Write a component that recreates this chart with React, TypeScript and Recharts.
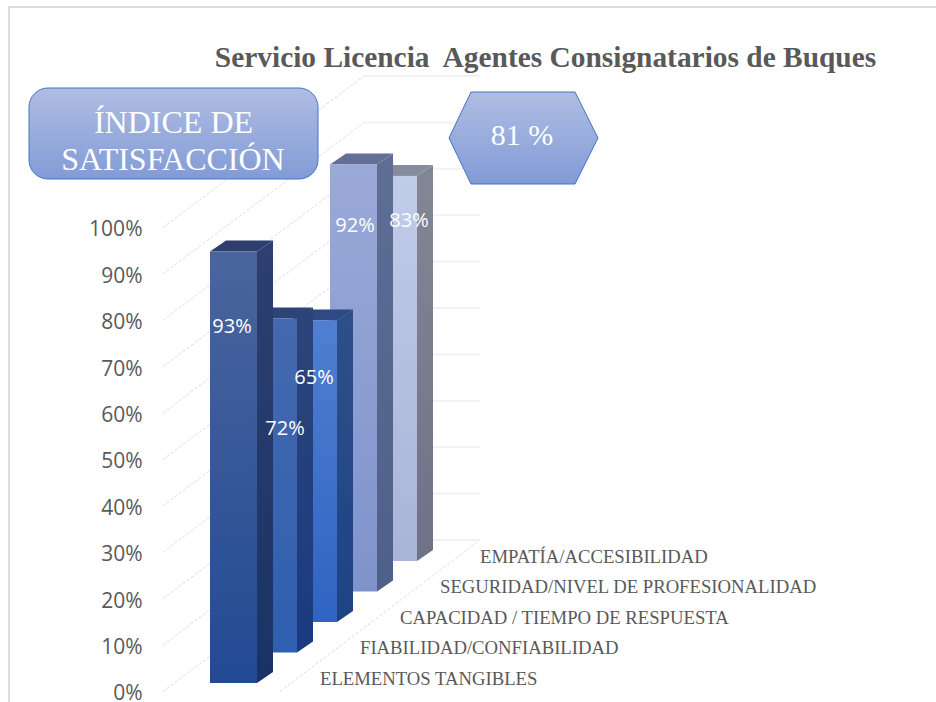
import { Bar, BarChart, CartesianGrid, LabelList, XAxis, YAxis } from "recharts";

const categories = [
  "ELEMENTOS TANGIBLES",
  "FIABILIDAD/CONFIABILIDAD",
  "CAPACIDAD / TIEMPO DE RESPUESTA",
  "SEGURIDAD/NIVEL DE PROFESIONALIDAD",
  "EMPATÍA/ACCESIBILIDAD",
];
const values = [93, 72, 65, 92, 83];
const yTicks = [0, 10, 20, 30, 40, 50, 60, 70, 80, 90, 100];

// front top, front bottom, side top, side bottom, top face
const barColors = [
  ["#4a659e", "#224a93", "#2e3f70", "#1a3266", "#2e3f6e"],
  ["#4569ae", "#2f5fb0", "#2d4478", "#1a3a80", "#2d4478"],
  ["#4f7fd0", "#2f64c2", "#2f4f8a", "#1d4384", "#2f4a82"],
  ["#9aa9d8", "#7f93cb", "#5e6e94", "#4e5f8a", "#646f98"],
  ["#c0cce8", "#aab4d8", "#838794", "#6f7187", "#858c9e"],
];
// where each percentage sits relative to the top centre of its bar
const labelNudges = [
  [-1.5, 74],
  [11.5, 109],
  [0.5, 56],
  [1.5, 60],
  [15.5, 44],
];

// back bars have to paint first, so the table runs back to front on a reversed axis
const table = categories
  .map((name, i) => ({ name, value: values[i], depth: i }))
  .reverse();

const FRONT_WIDTH = 47;
const SIDE_X = 16;
const SIDE_Y = 11;
const DEPTH_Y = 30.5;
const WALL_X = 201;
const WALL_Y = 151.5;
const GREY = "#595959";

function Bar3D(props: any) {
  const { x, y, width, height, payload } = props;
  const d = payload.depth;
  const left = x + width / 2 - FRONT_WIDTH / 2;
  const right = left + FRONT_WIDTH;
  const top = y - d * DEPTH_Y;
  const bottom = top + height;
  return (
    <g>
      <polygon
        points={`${right},${top} ${right + SIDE_X},${top - SIDE_Y} ${right + SIDE_X},${bottom - SIDE_Y} ${right},${bottom}`}
        fill={`url(#side${d})`}
      />
      <polygon
        points={`${left},${top} ${left + SIDE_X},${top - SIDE_Y} ${right + SIDE_X},${top - SIDE_Y} ${right},${top}`}
        fill={barColors[d][4]}
      />
      <rect x={left} y={top} width={FRONT_WIDTH} height={height} fill={`url(#front${d})`} />
    </g>
  );
}

function BarValue(props: any) {
  const { x, y, width, value, index } = props;
  const d = table[index].depth;
  const [dx, dy] = labelNudges[d];
  return (
    <text
      x={x + width / 2 + dx}
      y={y - d * DEPTH_Y + dy}
      fill="#ffffff"
      fontFamily="Open Sans"
      fontSize={20}
      textAnchor="middle"
      dominantBaseline="central"
    >
      {value}%
    </text>
  );
}

function CategoryTick(props: any) {
  const { x, y, payload } = props;
  const d = categories.indexOf(payload.value);
  return (
    <text
      x={x + 86.5}
      y={y - 13 - d * DEPTH_Y}
      fill={GREY}
      fontFamily="Liberation Serif"
      fontSize={18.7}
      dominantBaseline="central"
    >
      {payload.value}
    </text>
  );
}

function WallLine(props: any) {
  const { y1 } = props;
  const startX = 163;
  const startY = y1 + 8.5;
  const cornerX = startX + WALL_X;
  const cornerY = startY - WALL_Y;
  return (
    <g>
      <line
        x1={startX}
        y1={startY}
        x2={cornerX}
        y2={cornerY}
        stroke="#dcdcdc"
        strokeWidth={1}
        strokeDasharray="3 2"
      />
      <line x1={cornerX} y1={cornerY} x2={480} y2={cornerY} stroke="#f1f1f1" strokeWidth={2} />
    </g>
  );
}

export default function App() {
  return (
    <div style={{ position: "absolute", left: 0, top: 0, width: 936, height: 702, background: "#fff", overflow: "hidden" }}>
      <div style={{ position: "absolute", left: 8, top: 6, right: 0, bottom: 0, borderTop: "2px solid #dcdcdc", borderLeft: "2px solid #dcdcdc" }} />
      <BarChart
        width={936}
        height={702}
        data={table}
        margin={{ top: 219, right: 522.5, bottom: 0, left: 93.5 }}
        style={{ position: "absolute", left: 0, top: 0 }}
      >
        <defs>
          {barColors.map((c, i) => (
            <linearGradient key={`front${i}`} id={`front${i}`} x1="0" y1="0" x2="0" y2="1">
              <stop offset="0%" stopColor={c[0]} />
              <stop offset="100%" stopColor={c[1]} />
            </linearGradient>
          ))}
          {barColors.map((c, i) => (
            <linearGradient key={`side${i}`} id={`side${i}`} x1="0" y1="0" x2="0" y2="1">
              <stop offset="0%" stopColor={c[2]} />
              <stop offset="100%" stopColor={c[3]} />
            </linearGradient>
          ))}
        </defs>
        <CartesianGrid vertical={false} horizontal={(p: any) => <WallLine key={p.key ?? p.index} {...p} />} />
        <line x1={280} y1={691.5} x2={480} y2={540} stroke="#dcdcdc" strokeDasharray="3 2" />
        <XAxis
          dataKey="name"
          reversed
          interval={0}
          height={19}
          axisLine={false}
          tickLine={false}
          tick={(p: any) => <CategoryTick key={p.payload.value} {...p} />}
        />
        <YAxis
          domain={[0, 100]}
          ticks={yTicks}
          width={120}
          axisLine={false}
          tickLine={false}
          tickMargin={65}
          tickFormatter={(v: number) => `${v}%`}
          tick={{ fill: GREY, fontFamily: "Open Sans", fontSize: 21, dy: 10 }}
        />
        <Bar dataKey="value" isAnimationActive={false} shape={<Bar3D />}>
          <LabelList dataKey="value" content={<BarValue />} />
        </Bar>
      </BarChart>
      <svg width={936} height={702} style={{ position: "absolute", left: 0, top: 0 }}>
        <defs>
          <linearGradient id="boxFill" x1="0" y1="0" x2="0" y2="1">
            <stop offset="0%" stopColor="#b0bde3" />
            <stop offset="100%" stopColor="#829bd6" />
          </linearGradient>
        </defs>
        <text x={545.5} y={67} textAnchor="middle" fill={GREY} fontFamily="Liberation Serif" fontSize={29.4} fontWeight="bold" style={{ whiteSpace: "pre" }}>
          Servicio Licencia  Agentes Consignatarios de Buques
        </text>
        <rect x={29} y={88} width={289} height={91} rx={19} fill="url(#boxFill)" stroke="#4472c4" strokeWidth={1} />
        <text x={173.5} y={133} textAnchor="middle" fill="#fff" fontFamily="Liberation Serif" fontSize={32}>
          ÍNDICE DE
        </text>
        <text x={173} y={170} textAnchor="middle" fill="#fff" fontFamily="Liberation Serif" fontSize={32}>
          SATISFACCIÓN
        </text>
        <polygon points="449,138 471,92 575,92 598,138 575,184 471,184" fill="url(#boxFill)" stroke="#4472c4" strokeWidth={1} />
        <text x={522} y={145} textAnchor="middle" fill="#fff" fontFamily="Liberation Serif" fontSize={30}>
          81 %
        </text>
      </svg>
    </div>
  );
}
